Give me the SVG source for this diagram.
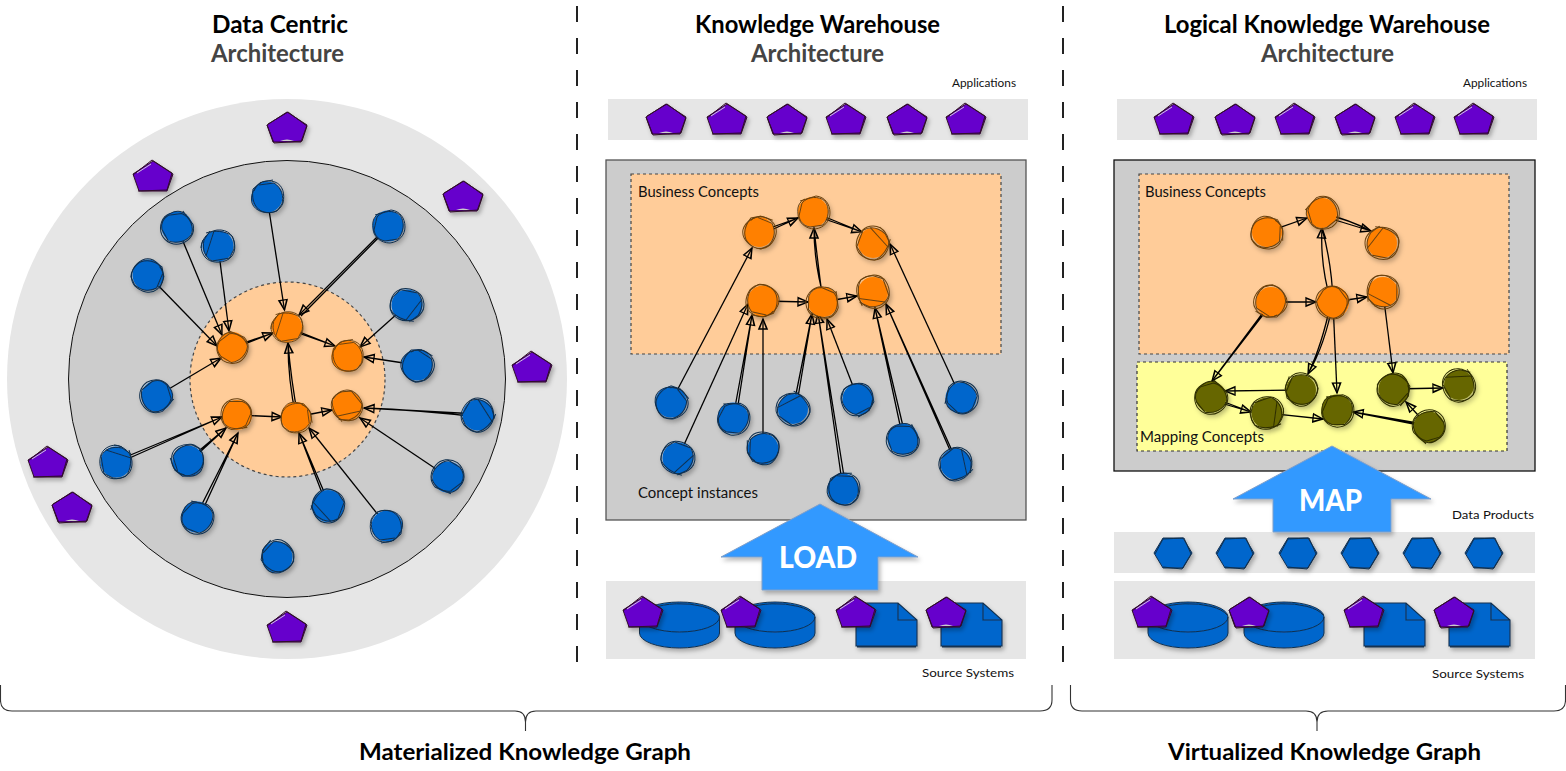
<svg xmlns="http://www.w3.org/2000/svg" width="1566" height="771" viewBox="0 0 1566 771">
<style>
text{font-family:"Lato","Liberation Sans",sans-serif}
.t{font-size:24px;font-weight:700;fill:#000}
.a{font-size:24px;font-weight:700;fill:#444}
.g{font-size:23px;font-weight:700;fill:#000}
.l{font-size:14.5px;fill:#111}
.h{font-size:11.5px;fill:#111}
.w{font-size:30px;font-weight:900;fill:#fff}
.band{fill:#e6e6e6}
.box{fill:#ccc;stroke:#555;stroke-width:1.3}
.box2{fill:#ccc;stroke:#111;stroke-width:1.3}
.peach{fill:#fc9;stroke:#444;stroke-width:1.2;stroke-dasharray:3 3}
.yel{fill:#ff9;stroke:#333;stroke-width:1.2;stroke-dasharray:3 3}
.div{stroke:#222;stroke-width:2;stroke-dasharray:16 16;fill:none}
.br{stroke:#333;stroke-width:1.1;fill:none}
.n{filter:url(#sh)}
.b circle{fill:#06c}.b use{stroke:#12304f;stroke-width:1}
.o circle{fill:#ff8000}.o use{stroke:#6b4210;stroke-width:1}
.k circle{fill:#660}.k use{stroke:#2f2f00;stroke-width:1}
#connectors path{fill:none;stroke:#000;stroke-width:1.3;marker-end:url(#ar)}
.up{fill:#39f;stroke:#7f9fca;stroke-width:1;filter:url(#sh)}
</style>
<defs>
<filter id="sh" x="-30%" y="-30%" width="170%" height="170%"><feDropShadow dx="2" dy="3" stdDeviation="2" flood-color="#000" flood-opacity=".28"/></filter>
<marker id="ar" markerUnits="userSpaceOnUse" markerWidth="14" markerHeight="12" refX="11" refY="6" orient="auto"><path d="M1 1.800L11 6L1 10.200Z M2 2.600L11 6L1.500 9.500" fill="none" stroke="#000" stroke-width="1.300"/></marker>
<g id="s1" fill="none"><path d="M-13-6C-10-15-1-18 8-15C16-12 18-3 16 6C13 14 5 17-3 15C-11 13-16 4-14-8L-6-15"/><path d="M-8-12L7-14C15-9 17 0 15 7L10 14C1 18-12 15-15 6C-17-2-13-10-5-15L6-17"/></g>
<g id="s2" fill="none"><path d="M-13-11L3-16C12-15 17-8 17 1C17 9 11 16 2 17C-7 17-15 11-15 2C-16-5-14-10-8-13"/><path d="M-14 4L-11-9C-5-16 6-16 12-11C17-4 16 6 10 13L-3 15C-9 14-13 10-14 4"/></g>
<g id="s3" fill="none"><path d="M-17 2C-16-9-8-17 3-16C13-15 18-7 16 3L11 13C3 18-8 17-13 11C-17 6-18 0-15-6"/><path d="M-12-13C-4-16 8-15 14-10M14-10C18-2 18 7 12 12L-6 15C-13 11-16 4-14-6L-8-15"/><path d="M-4-15L-12 10"/></g>
<g id="p1"><polygon points="0,-15 20,-2 14,15 -14,15 -20,-2" fill="#60c"/><path d="M-20-2L0-15L20-2L14 15L-14 15Z M-19-3L1-15L20-1L15 14L-13 16L-20-2" fill="none" stroke="#300a2a" stroke-width="1"/><path d="M-7 14Q0 11 7 14" fill="#ccc"/></g>
<g id="p2"><polygon points="0,-15 20,-2 14,15 -14,15 -20,-2" fill="#60c"/><path d="M-20-2L0-15L20-2L14 15L-14 15Z M-20-1L-1-16L19-3L14 14L-15 15" fill="none" stroke="#300a2a" stroke-width="1"/><path d="M-16-3L-2-12" fill="none" stroke="#ddd" stroke-width=".9"/></g>
<g id="hx"><polygon points="-19,0 -10,-15 10,-15 19,0 10,15 -10,15" fill="#06c"/><path d="M-19 0L-10-15L10-15L19 0L10 15L-10 15Z M-18 1L-10-14L11-15L18 1L9 16L-10 14" fill="none" stroke="#12304f" stroke-width="1"/></g>
<g id="cy"><path d="M-40 0A40 15 0 0 1 40 0V16A40 15 0 0 1-40 16Z" fill="#06c"/><path d="M-40 0A40 15 0 0 1 40 0A40 15 0 0 1-40 0M-40 0V16A40 15 0 0 0 40 16V0M-39 1A40 16 0 0 1 39-2" fill="none" stroke="#12304f" stroke-width="1"/></g>
<g id="fi"><path d="M0 0H42L61 17V43H0Z" fill="#06c"/><path d="M0 0H42L61 17V43H0ZM42 0V17H61M1 44H60" fill="none" stroke="#12304f" stroke-width="1.100"/></g>
</defs>

<g id="panels">
<line class="div" x1="577" y1="6" x2="577" y2="664"/>
<line class="div" x1="1063" y1="6" x2="1063" y2="664"/>
<circle cx="287" cy="379" r="280" class="band"/>
<circle cx="287" cy="379" r="218.500" fill="#ccc" stroke="#111" stroke-width="1"/>
<circle cx="287.500" cy="379.500" r="97.500" class="peach"/>
<rect x="608" y="99" width="420" height="41" class="band"/>
<rect x="606" y="160" width="420" height="360" class="box"/>
<rect x="631" y="174" width="370" height="180" class="peach"/>
<rect x="606" y="581" width="420" height="78" class="band"/>
<rect x="1117" y="99" width="420" height="41" class="band"/>
<rect x="1114" y="160" width="421" height="311" class="box2"/>
<rect x="1139" y="174" width="370" height="180" class="peach"/>
<rect x="1137" y="362" width="370" height="89" class="yel"/>
<rect x="1114" y="532" width="421" height="41" class="band"/>
<rect x="1114" y="581" width="421" height="78" class="band"/>
</g>

<g id="connectors">
<path d="M267 197L284.500 310"/>
<path d="M177 227L222 335"/>
<path d="M218 246L229 331"/>
<path d="M148 275L217 346"/>
<path d="M390 226L301 316M388 226L299 315"/>
<path d="M407 305L360 347"/>
<path d="M417 365L364 357"/>
<path d="M157 396L221 358"/>
<path d="M116 464L222 417M116 461L222 417"/>
<path d="M188 463L226 428M188 460L226 428"/>
<path d="M199 518L238 433M196 516L238 433"/>
<path d="M330 506L299 433M327 506L299 433"/>
<path d="M387 526L309 428"/>
<path d="M448 477L360 418"/>
<path d="M478 417Q420 410 364 408M478 414L364 408"/>
<path d="M232 347L273 333M232 349L273 333"/>
<path d="M287 327L335 346M287 329L335 346"/>
<path d="M296 417Q288 380 288 343M298 417Q291 380 288 343"/>
<path d="M237 415L282 417"/>
<path d="M296 417L332 410"/>

<path d="M671 402L752 248"/>
<path d="M678 458L748 304"/>
<path d="M733 418L752 315M736 418L752 315"/>
<path d="M763 449V319"/>
<path d="M793 409L812 314M796 409L812 314"/>
<path d="M843 489L818 313M846 489L818 313"/>
<path d="M858 399L827 319"/>
<path d="M903 439L875 308M906 439L875 308"/>
<path d="M956 464L886 304M958 464L886 304"/>
<path d="M961 398L890 244"/>
<path d="M759 232L798 218M760 235L798 218"/>
<path d="M813 212L862 232M813 215L862 232"/>
<path d="M823 302Q818 265 814 228M825 302Q814 265 814 228"/>
<path d="M763 301L808 302"/>
<path d="M823 302L857 296"/>

<path d="M1267 232L1307 218"/>
<path d="M1322 213Q1350 220 1371 231M1322 216L1371 231"/>
<path d="M1333 302Q1332 265 1322 228M1331 302Q1320 265 1322 228"/>
<path d="M1271 302L1316 302"/>
<path d="M1333 302L1367 297"/>
<path d="M1271 302L1212 381M1273 302L1212 381"/>
<path d="M1333 302Q1325 345 1308 374M1331 302Q1322 345 1308 374"/>
<path d="M1333 302L1337 393"/>
<path d="M1383 292L1393 373"/>
<path d="M1301 390L1225 391"/>
<path d="M1211 397L1251 412M1211 400L1251 412"/>
<path d="M1267 413L1323 419"/>
<path d="M1429 427L1353 412M1429 425L1353 412"/>
<path d="M1429 427L1406 402"/>
<path d="M1394 389L1443 388"/>
</g>

<g id="dc-nodes">
<g id="dc-a1" class="n" transform="translate(287 127)"><use href="#p1"/></g>
<g id="dc-a2" class="n" transform="translate(153 176)"><use href="#p2"/></g>
<g id="dc-a3" class="n" transform="translate(463 196)"><use href="#p1"/></g>
<g id="dc-a4" class="n" transform="translate(532 367)"><use href="#p2"/></g>
<g id="dc-a5" class="n" transform="translate(48 462)"><use href="#p2"/></g>
<g id="dc-a6" class="n" transform="translate(72 507)"><use href="#p1"/></g>
<g id="dc-a7" class="n" transform="translate(287 627)"><use href="#p2"/></g>
<g id="dc-b1" class="n b" transform="translate(267 197)"><circle r="15.500"/><use href="#s1"/></g>
<g id="dc-b2" class="n b" transform="translate(177 227)"><circle r="15.500"/><use href="#s2" transform="rotate(70)"/></g>
<g id="dc-b3" class="n b" transform="translate(218 246)"><circle r="15.500"/><use href="#s3"/></g>
<g id="dc-b4" class="n b" transform="translate(148 275)"><circle r="15.500"/><use href="#s1" transform="rotate(120)"/></g>
<g id="dc-b5" class="n b" transform="translate(388 226)"><circle r="15.500"/><use href="#s2"/></g>
<g id="dc-b6" class="n b" transform="translate(407 305)"><circle r="15.500"/><use href="#s3" transform="rotate(200)"/></g>
<g id="dc-b7" class="n b" transform="translate(417 365)"><circle r="15.500"/><use href="#s1" transform="rotate(40)"/></g>
<g id="dc-b8" class="n b" transform="translate(157 396)"><circle r="15.500"/><use href="#s2" transform="rotate(150)"/></g>
<g id="dc-b9" class="n b" transform="translate(116 462)"><circle r="15.500"/><use href="#s3" transform="rotate(90)"/></g>
<g id="dc-b10" class="n b" transform="translate(188 461)"><circle r="15.500"/><use href="#s1" transform="rotate(260)"/></g>
<g id="dc-b11" class="n b" transform="translate(197 517)"><circle r="15.500"/><use href="#s2" transform="rotate(30)"/></g>
<g id="dc-b12" class="n b" transform="translate(328 506)"><circle r="16"/><use href="#s3" transform="rotate(300)"/></g>
<g id="dc-b13" class="n b" transform="translate(387 526)"><circle r="15.500"/><use href="#s1" transform="rotate(180)"/></g>
<g id="dc-b14" class="n b" transform="translate(448 477)"><circle r="15.500"/><use href="#s2" transform="rotate(220)"/></g>
<g id="dc-b15" class="n b" transform="translate(478 415)"><circle r="15.500"/><use href="#s3" transform="rotate(130)"/></g>
<g id="dc-b16" class="n b" transform="translate(277 557)"><circle r="15.500"/><use href="#s1" transform="rotate(320)"/></g>
<g id="dc-o1" class="n o" transform="translate(232 347)"><circle r="15"/><use href="#s2" transform="rotate(40) scale(.95)"/></g>
<g id="dc-o2" class="n o" transform="translate(287 327)"><circle r="15"/><use href="#s3" transform="scale(.95)"/></g>
<g id="dc-o3" class="n o" transform="translate(347 356)"><circle r="15.500"/><use href="#s1" transform="scale(.97)"/></g>
<g id="dc-o4" class="n o" transform="translate(237 415)"><circle r="15"/><use href="#s2" transform="rotate(190) scale(.95)"/></g>
<g id="dc-o5" class="n o" transform="translate(296 417)"><circle r="15"/><use href="#s1" transform="rotate(90) scale(.95)"/></g>
<g id="dc-o6" class="n o" transform="translate(347 406)"><circle r="15"/><use href="#s3" transform="rotate(240) scale(.93)"/></g>
</g>

<g id="kw-nodes">
<g id="kw-a1" class="n" transform="translate(666 119)"><use href="#p1"/></g>
<g id="kw-a2" class="n" transform="translate(727 119)"><use href="#p2"/></g>
<g id="kw-a3" class="n" transform="translate(787 119)"><use href="#p1"/></g>
<g id="kw-a4" class="n" transform="translate(846 119)"><use href="#p2"/></g>
<g id="kw-a5" class="n" transform="translate(907 119)"><use href="#p1"/></g>
<g id="kw-a6" class="n" transform="translate(966 119)"><use href="#p2"/></g>
<g id="kw-o1" class="n o" transform="translate(759 232)"><circle r="15"/><use href="#s1" transform="rotate(30)"/></g>
<g id="kw-o2" class="n o" transform="translate(813 212)"><circle r="15"/><use href="#s2"/></g>
<g id="kw-o3" class="n o" transform="translate(873 243)"><circle r="15"/><use href="#s3" transform="rotate(120)"/></g>
<g id="kw-o4" class="n o" transform="translate(763 301)"><circle r="15.500"/><use href="#s1" transform="rotate(200)"/></g>
<g id="kw-o5" class="n o" transform="translate(823 302)"><circle r="15"/><use href="#s2" transform="rotate(100)"/></g>
<g id="kw-o6" class="n o" transform="translate(873 292)"><circle r="15"/><use href="#s3" transform="rotate(260)"/></g>
<g id="kw-b1" class="n b" transform="translate(671 402)"><circle r="15.500"/><use href="#s1" transform="rotate(60)"/></g>
<g id="kw-b2" class="n b" transform="translate(733 418)"><circle r="15.500"/><use href="#s2" transform="rotate(15)"/></g>
<g id="kw-b3" class="n b" transform="translate(793 409)"><circle r="15"/><use href="#s3" transform="rotate(45)"/></g>
<g id="kw-b4" class="n b" transform="translate(858 399)"><circle r="15.500"/><use href="#s1" transform="rotate(160)"/></g>
<g id="kw-b5" class="n b" transform="translate(961 398)"><circle r="15.500"/><use href="#s2" transform="rotate(300)"/></g>
<g id="kw-b6" class="n b" transform="translate(678 458)"><circle r="15.500"/><use href="#s3" transform="rotate(210)"/></g>
<g id="kw-b7" class="n b" transform="translate(763 449)"><circle r="15.500"/><use href="#s1" transform="rotate(280)"/></g>
<g id="kw-b8" class="n b" transform="translate(903 439)"><circle r="15.500"/><use href="#s2" transform="rotate(80)"/></g>
<g id="kw-b9" class="n b" transform="translate(956 464)"><circle r="15.500"/><use href="#s3" transform="rotate(150)"/></g>
<g id="kw-b10" class="n b" transform="translate(843 489)"><circle r="15.500"/><use href="#s1" transform="rotate(10)"/></g>
<g id="kw-c1" class="n" transform="translate(679.500 617)"><use href="#cy"/></g>
<g id="kw-c2" class="n" transform="translate(775 617)"><use href="#cy"/></g>
<g id="kw-f1" class="n" transform="translate(856 603)"><use href="#fi"/></g>
<g id="kw-f2" class="n" transform="translate(941 603)"><use href="#fi"/></g>
<g id="kw-s1" class="n" transform="translate(643 612)"><use href="#p2"/></g>
<g id="kw-s2" class="n" transform="translate(741 612)"><use href="#p2"/></g>
<g id="kw-s3" class="n" transform="translate(856 612)"><use href="#p2"/></g>
<g id="kw-s4" class="n" transform="translate(946 612)"><use href="#p1"/></g>
</g>

<g id="lkw-nodes">
<g id="lkw-a1" class="n" transform="translate(1174 119)"><use href="#p2"/></g>
<g id="lkw-a2" class="n" transform="translate(1235 119)"><use href="#p1"/></g>
<g id="lkw-a3" class="n" transform="translate(1295 119)"><use href="#p2"/></g>
<g id="lkw-a4" class="n" transform="translate(1355 119)"><use href="#p1"/></g>
<g id="lkw-a5" class="n" transform="translate(1415 119)"><use href="#p2"/></g>
<g id="lkw-a6" class="n" transform="translate(1474 119)"><use href="#p2"/></g>
<g id="lkw-o1" class="n o" transform="translate(1267 232)"><circle r="15"/><use href="#s1" transform="rotate(100)"/></g>
<g id="lkw-o2" class="n o" transform="translate(1322 213)"><circle r="15"/><use href="#s2" transform="rotate(330)"/></g>
<g id="lkw-o3" class="n o" transform="translate(1382 243)"><circle r="15"/><use href="#s3" transform="rotate(20)"/></g>
<g id="lkw-o4" class="n o" transform="translate(1271 302)"><circle r="15"/><use href="#s1" transform="rotate(220)"/></g>
<g id="lkw-o5" class="n o" transform="translate(1333 302)"><circle r="16"/><use href="#s2" transform="rotate(130)"/></g>
<g id="lkw-o6" class="n o" transform="translate(1383 292)"><circle r="15"/><use href="#s3" transform="rotate(280)"/></g>
<g id="lkw-k1" class="n k" transform="translate(1211 397)"><circle r="15.500"/><use href="#s2" transform="rotate(60)"/></g>
<g id="lkw-k2" class="n k" transform="translate(1301 390)"><circle r="15"/><use href="#s1" transform="rotate(300)"/></g>
<g id="lkw-k3" class="n k" transform="translate(1267 413)"><circle r="15.500"/><use href="#s3" transform="rotate(170)"/></g>
<g id="lkw-k4" class="n k" transform="translate(1337 410)"><circle r="15.500"/><use href="#s2" transform="rotate(10)"/></g>
<g id="lkw-k5" class="n k" transform="translate(1394 389)"><circle r="15.500"/><use href="#s1" transform="rotate(140)"/></g>
<g id="lkw-k6" class="n k" transform="translate(1459 385)"><circle r="15"/><use href="#s3" transform="rotate(70)"/></g>
<g id="lkw-k7" class="n k" transform="translate(1429 427)"><circle r="15.500"/><use href="#s2" transform="rotate(240)"/></g>
<g id="lkw-h1" class="n" transform="translate(1173 553)"><use href="#hx"/></g>
<g id="lkw-h2" class="n" transform="translate(1235 553)"><use href="#hx"/></g>
<g id="lkw-h3" class="n" transform="translate(1298 553)"><use href="#hx"/></g>
<g id="lkw-h4" class="n" transform="translate(1360 553)"><use href="#hx"/></g>
<g id="lkw-h5" class="n" transform="translate(1422 553)"><use href="#hx"/></g>
<g id="lkw-h6" class="n" transform="translate(1484 553)"><use href="#hx"/></g>
<g id="lkw-c1" class="n" transform="translate(1188 617)"><use href="#cy"/></g>
<g id="lkw-c2" class="n" transform="translate(1284 617)"><use href="#cy"/></g>
<g id="lkw-f1" class="n" transform="translate(1364 603)"><use href="#fi"/></g>
<g id="lkw-f2" class="n" transform="translate(1449 603)"><use href="#fi"/></g>
<g id="lkw-s1" class="n" transform="translate(1152 612)"><use href="#p2"/></g>
<g id="lkw-s2" class="n" transform="translate(1249 612)"><use href="#p1"/></g>
<g id="lkw-s3" class="n" transform="translate(1364 612)"><use href="#p2"/></g>
<g id="lkw-s4" class="n" transform="translate(1454 612)"><use href="#p1"/></g>
</g>

<g id="load"><polygon class="up" points="820,504 918,557 878,557 878,590 762,590 762,557 721,557"/><text class="w" x="779" y="568" textLength="78" lengthAdjust="spacingAndGlyphs">LOAD</text></g>
<g id="map"><polygon class="up" points="1332,446 1431,499 1391,499 1391,532 1273,532 1273,499 1233,499"/><text class="w" x="1299" y="511" textLength="63" lengthAdjust="spacingAndGlyphs">MAP</text></g>

<g id="brackets">
<path class="br" d="M0.500 685V700Q0.500 711 12 711H515Q525.500 711 525.500 722V731V722Q525.500 711 536 711H1040Q1052 711 1052 700V685"/>
<path class="br" d="M1070.500 685V700Q1070.500 711 1082 711H1306Q1317 711 1317 722V731V722Q1317 711 1328 711H1554Q1565.500 711 1565.500 700V685"/>
</g>

<g id="labels">
<text class="t" x="212" y="33" textLength="136" lengthAdjust="spacingAndGlyphs">Data Centric</text>
<text class="a" x="211" y="62" textLength="133" lengthAdjust="spacingAndGlyphs">Architecture</text>
<text class="t" x="695" y="33" textLength="245" lengthAdjust="spacingAndGlyphs">Knowledge Warehouse</text>
<text class="a" x="751" y="62" textLength="133" lengthAdjust="spacingAndGlyphs">Architecture</text>
<text class="t" x="1164" y="33" textLength="326" lengthAdjust="spacingAndGlyphs">Logical Knowledge Warehouse</text>
<text class="a" x="1261" y="62" textLength="133" lengthAdjust="spacingAndGlyphs">Architecture</text>
<text class="h" x="952" y="87" textLength="64" lengthAdjust="spacingAndGlyphs">Applications</text>
<text class="h" x="1463" y="87" textLength="64" lengthAdjust="spacingAndGlyphs">Applications</text>
<text class="l" x="638" y="197" textLength="121" lengthAdjust="spacingAndGlyphs">Business Concepts</text>
<text class="l" x="1145" y="197" textLength="121" lengthAdjust="spacingAndGlyphs">Business Concepts</text>
<text class="l" x="638" y="498" textLength="120" lengthAdjust="spacingAndGlyphs">Concept instances</text>
<text class="l" x="1140" y="442" textLength="124" lengthAdjust="spacingAndGlyphs">Mapping Concepts</text>
<text class="h" x="1452" y="519" textLength="82" lengthAdjust="spacingAndGlyphs">Data Products</text>
<text class="h" x="922" y="677" textLength="92" lengthAdjust="spacingAndGlyphs">Source Systems</text>
<text class="h" x="1432" y="678" textLength="92" lengthAdjust="spacingAndGlyphs">Source Systems</text>
<text class="g" x="359" y="760" textLength="332" lengthAdjust="spacingAndGlyphs">Materialized Knowledge Graph</text>
<text class="g" x="1168" y="760" textLength="313" lengthAdjust="spacingAndGlyphs">Virtualized Knowledge Graph</text>
</g>
</svg>
